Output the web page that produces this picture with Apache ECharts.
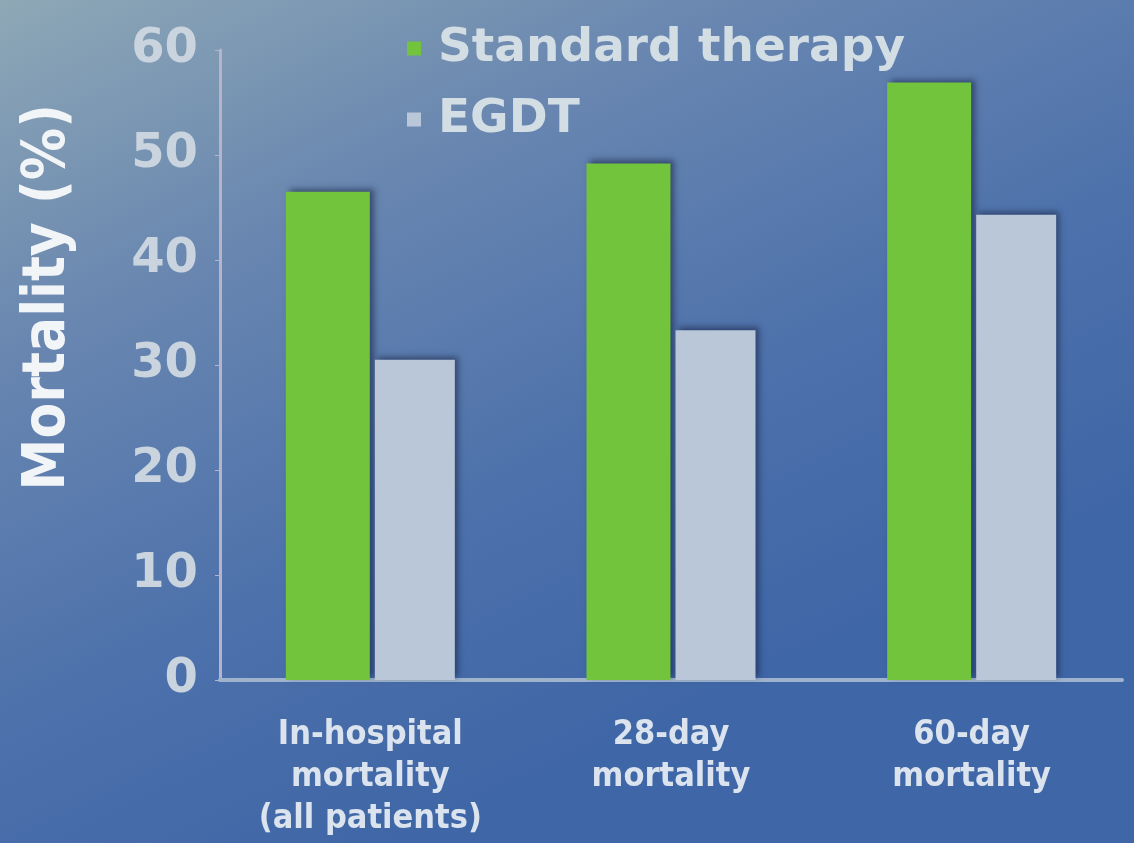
<!DOCTYPE html>
<html>
<head>
<meta charset="utf-8">
<script src="https://cdn.jsdelivr.net/npm/echarts@6/dist/echarts.min.js"></script>
<style>
  html, body { margin: 0; padding: 0; }
  #mortalityChart { width: 1134px; height: 843px; }
</style>
</head>
<body>
<div id="mortalityChart"></div>
<script>
  // values
  const categories = ['In-hospital\nmortality\n(all patients)', '28-day\nmortality', '60-day\nmortality'];
  const standardTherapy = [46.5, 49.2, 56.9];
  const egdt = [30.5, 33.3, 44.3];
  const yTicks = [0, 10, 20, 30, 40, 50, 60];

  const chart = echarts.init(document.getElementById('mortalityChart'));
  chart.setOption({
    backgroundColor: new echarts.graphic.LinearGradient(0, 0, 0.35, 1, [
      { offset: 0, color: '#8ea8b6' },
      { offset: 0.35, color: '#6886b0' },
      { offset: 0.7, color: '#4d71ab' },
      { offset: 1, color: '#3f66a6' }
    ]),
    animation: false,
    // y axis title, placed by hand since it sits above the axis middle
    graphic: [{
      type: 'text',
      left: 20,
      top: 104,
      rotation: Math.PI / 2,
      style: {
        text: 'Mortality (%)',
        fill: '#f2f5f8',
        font: 'bold 58px "DejaVu Sans Condensed", "DejaVu Sans"'
      }
    }],
    legend: {
      orient: 'vertical',
      left: 402,
      top: 20,
      itemWidth: 14,
      itemHeight: 14,
      itemGap: 24,
      icon: 'rect',
      textStyle: {
        color: '#d3dde4',
        fontSize: 47,
        fontFamily: 'DejaVu Sans',
        fontWeight: 'bold',
        padding: [0, 0, 0, 12]
      },
      data: ['Standard therapy', 'EGDT']
    },
    grid: {
      left: 220,
      right: 12,
      top: 50,
      bottom: 163,
      outerBoundsMode: 'none',
      containLabel: false
    },
    xAxis: {
      type: 'category',
      data: categories,
      axisLine: { lineStyle: { color: '#9fb3cc', width: 4 } },
      axisTick: { show: false },
      axisLabel: {
        interval: 0,
        color: '#dbe4ee',
        fontSize: 34,
        fontWeight: 'bold',
        fontFamily: 'DejaVu Sans Condensed',
        lineHeight: 42,
        margin: 34
      }
    },
    yAxis: {
      type: 'value',
      min: yTicks[0],
      max: yTicks[yTicks.length - 1],
      interval: 10,
      axisLine: { show: true, lineStyle: { color: '#b6b4c8', width: 3 } },
      axisTick: { show: true, length: 5, lineStyle: { color: '#b6b4c8' } },
      splitLine: { show: false },
      axisLabel: {
        color: '#c9d4de',
        fontSize: 48,
        fontWeight: 'bold',
        fontFamily: 'DejaVu Sans',
        margin: 22
      }
    },
    series: [
      {
        name: 'Standard therapy',
        type: 'bar',
        data: standardTherapy,
        barWidth: 84,
        barGap: '6%',
        itemStyle: {
          color: '#72c43c',
          shadowColor: 'rgba(20,30,60,0.55)',
          shadowBlur: 6,
          shadowOffsetX: 4,
          shadowOffsetY: -3
        }
      },
      {
        name: 'EGDT',
        type: 'bar',
        data: egdt,
        barWidth: 80,
        itemStyle: {
          color: '#b9c7d8',
          shadowColor: 'rgba(20,30,60,0.55)',
          shadowBlur: 6,
          shadowOffsetX: 3,
          shadowOffsetY: -3
        }
      }
    ]
  });
  window.addEventListener('resize', () => {
    chart.resize();
  });
</script>
</body>
</html>
